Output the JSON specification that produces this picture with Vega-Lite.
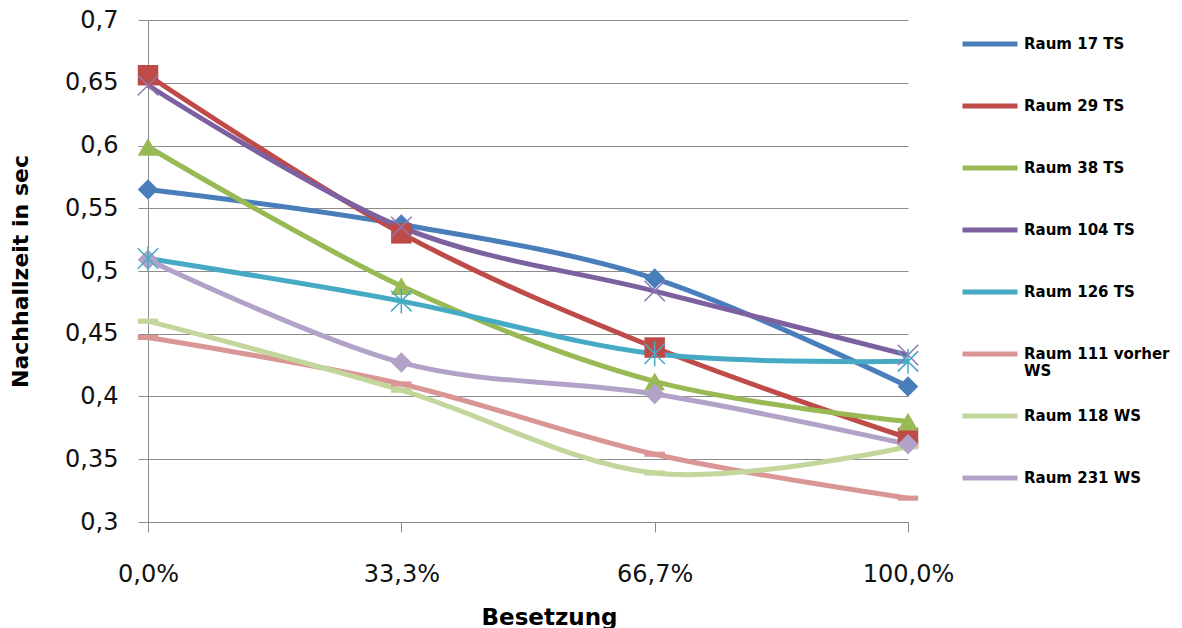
{
  "$schema": "https://vega.github.io/schema/vega-lite/v6.json",
  "width": 760,
  "height": 502,
  "autosize": {"type": "none"},
  "padding": {"left": 148, "top": 20, "right": 274, "bottom": 106},
  "background": "white",
  "config": {
    "view": {"stroke": null},
    "font": "DejaVu Sans"
  },
  "data": {
    "values": [
      {"room": "Raum 17 TS", "b": "0,0%", "v": 0.565},
      {"room": "Raum 17 TS", "b": "33,3%", "v": 0.537},
      {"room": "Raum 17 TS", "b": "66,7%", "v": 0.494},
      {"room": "Raum 17 TS", "b": "100,0%", "v": 0.408},
      {"room": "Raum 29 TS", "b": "0,0%", "v": 0.656},
      {"room": "Raum 29 TS", "b": "33,3%", "v": 0.530},
      {"room": "Raum 29 TS", "b": "66,7%", "v": 0.439},
      {"room": "Raum 29 TS", "b": "100,0%", "v": 0.367},
      {"room": "Raum 38 TS", "b": "0,0%", "v": 0.599},
      {"room": "Raum 38 TS", "b": "33,3%", "v": 0.488},
      {"room": "Raum 38 TS", "b": "66,7%", "v": 0.412},
      {"room": "Raum 38 TS", "b": "100,0%", "v": 0.380},
      {"room": "Raum 104 TS", "b": "0,0%", "v": 0.648},
      {"room": "Raum 104 TS", "b": "33,3%", "v": 0.535},
      {"room": "Raum 104 TS", "b": "66,7%", "v": 0.484},
      {"room": "Raum 104 TS", "b": "100,0%", "v": 0.433},
      {"room": "Raum 126 TS", "b": "0,0%", "v": 0.510},
      {"room": "Raum 126 TS", "b": "33,3%", "v": 0.476},
      {"room": "Raum 126 TS", "b": "66,7%", "v": 0.434},
      {"room": "Raum 126 TS", "b": "100,0%", "v": 0.428},
      {"room": "Raum 111 vorher WS", "b": "0,0%", "v": 0.447},
      {"room": "Raum 111 vorher WS", "b": "33,3%", "v": 0.410},
      {"room": "Raum 111 vorher WS", "b": "66,7%", "v": 0.354},
      {"room": "Raum 111 vorher WS", "b": "100,0%", "v": 0.319},
      {"room": "Raum 118 WS", "b": "0,0%", "v": 0.460},
      {"room": "Raum 118 WS", "b": "33,3%", "v": 0.405},
      {"room": "Raum 118 WS", "b": "66,7%", "v": 0.339},
      {"room": "Raum 118 WS", "b": "100,0%", "v": 0.360},
      {"room": "Raum 231 WS", "b": "0,0%", "v": 0.509},
      {"room": "Raum 231 WS", "b": "33,3%", "v": 0.427},
      {"room": "Raum 231 WS", "b": "66,7%", "v": 0.402},
      {"room": "Raum 231 WS", "b": "100,0%", "v": 0.362}
    ]
  },
  "encoding": {
    "x": {
      "field": "b",
      "type": "ordinal",
      "sort": ["0,0%", "33,3%", "66,7%", "100,0%"],
      "scale": {"type": "point", "padding": 0},
      "axis": {
        "title": "Besetzung",
        "titleFont": "DejaVu Sans",
        "titleFontWeight": "bold",
        "titleFontSize": 23,
        "titleColor": "black",
        "titleBaseline": "alphabetic",
        "titleX": 401,
        "titleY": 102,
        "labelAngle": 0,
        "labelFontSize": 24,
        "labelColor": "#111111",
        "labelPadding": 30,
        "tickSize": 10,
        "tickColor": "#8c8c8c",
        "domainColor": "#8c8c8c",
        "grid": false
      }
    },
    "y": {
      "field": "v",
      "type": "quantitative",
      "scale": {"domain": [0.3, 0.7], "nice": false, "zero": false},
      "axis": {
        "title": "Nachhallzeit  in sec",
        "titleFont": "DejaVu Sans",
        "titleFontWeight": "bold",
        "titleFontSize": 22,
        "titleColor": "black",
        "titleBaseline": "alphabetic",
        "titleAngle": -90,
        "titleX": -121,
        "titleY": 251,
        "values": [0.3, 0.35, 0.4, 0.45, 0.5, 0.55, 0.6, 0.65, 0.7],
        "labelExpr": "replace(format(datum.value, '.2~f'), '.', ',')",
        "labelFontSize": 24,
        "labelColor": "#111111",
        "labelPadding": 20,
        "tickSize": 10,
        "tickColor": "#8c8c8c",
        "domainColor": "#8c8c8c",
        "gridColor": "#8c8c8c",
        "grid": true
      }
    }
  },
  "layer": [
    {
      "mark": {"type": "line", "interpolate": "cardinal", "strokeWidth": 5},
      "encoding": {
        "color": {
          "field": "room",
          "type": "nominal",
          "scale": {
            "domain": ["Raum 17 TS", "Raum 29 TS", "Raum 38 TS", "Raum 104 TS", "Raum 126 TS", "Raum 111 vorher WS", "Raum 118 WS", "Raum 231 WS"],
            "range": ["#4a7ebb", "#be4b48", "#98b954", "#7d60a0", "#46aac5", "#d99694", "#c3d69b", "#b3a2c7"]
          },
          "legend": {
            "title": null,
            "orient": "none",
            "legendX": 812,
            "legendY": -6,
            "symbolType": "stroke",
            "symbolSize": 3025,
            "symbolStrokeWidth": 5,
            "labelFont": "DejaVu Sans",
            "labelFontWeight": "bold",
            "labelFontSize": 15,
            "labelColor": "black",
            "labelOffset": 4,
            "labelLimit": 300,
            "gridAlign": "all",
            "rowPadding": 7,
            "labelExpr": "datum.label == 'Raum 111 vorher WS' ? ['Raum 111 vorher', 'WS'] : datum.label"
          }
        }
      }
    },
    {
      "transform": [
        {"filter": "datum.room != 'Raum 104 TS' && datum.room != 'Raum 126 TS'"}
      ],
      "mark": {"type": "point", "filled": true, "opacity": 1, "size": 420},
      "encoding": {
        "fill": {
          "field": "room",
          "type": "nominal",
          "legend": null,
          "scale": {
            "domain": ["Raum 231 WS", "Raum 118 WS", "Raum 111 vorher WS", "Raum 126 TS", "Raum 104 TS", "Raum 38 TS", "Raum 29 TS", "Raum 17 TS"],
            "range": ["#b3a2c7", "#c3d69b", "#d99694", "#46aac5", "#7d60a0", "#98b954", "#be4b48", "#4a7ebb"]
          }
        },
        "shape": {
          "field": "room",
          "type": "nominal",
          "legend": null,
          "scale": {
            "domain": ["Raum 231 WS", "Raum 118 WS", "Raum 111 vorher WS", "Raum 126 TS", "Raum 104 TS", "Raum 38 TS", "Raum 29 TS", "Raum 17 TS"],
            "range": ["diamond", "M-1,-0.25H1V0.25H-1Z", "M-1,-0.25H1V0.25H-1Z", "M-1,-1L1,1M-1,1L1,-1M0,-1.2L0,1.2", "M-1,-1L1,1M-1,1L1,-1", "triangle-up", "square", "diamond"]
          }
        }
      }
    },
    {
      "transform": [
        {"filter": "datum.room == 'Raum 104 TS' || datum.room == 'Raum 126 TS'"}
      ],
      "mark": {"type": "point", "filled": false, "opacity": 1, "size": 420, "strokeWidth": 1.5},
      "encoding": {
        "stroke": {
          "field": "room",
          "type": "nominal",
          "legend": null,
          "scale": {
            "domain": ["Raum 126 TS", "Raum 104 TS"],
            "range": ["#46aac5", "#8f78b0"]
          }
        },
        "shape": {
          "field": "room",
          "type": "nominal",
          "legend": null,
          "scale": {
            "domain": ["Raum 231 WS", "Raum 118 WS", "Raum 111 vorher WS", "Raum 126 TS", "Raum 104 TS", "Raum 38 TS", "Raum 29 TS", "Raum 17 TS"],
            "range": ["diamond", "M-1,-0.25H1V0.25H-1Z", "M-1,-0.25H1V0.25H-1Z", "M-1,-1L1,1M-1,1L1,-1M0,-1.2L0,1.2", "M-1,-1L1,1M-1,1L1,-1", "triangle-up", "square", "diamond"]
          }
        }
      }
    }
  ]
}
